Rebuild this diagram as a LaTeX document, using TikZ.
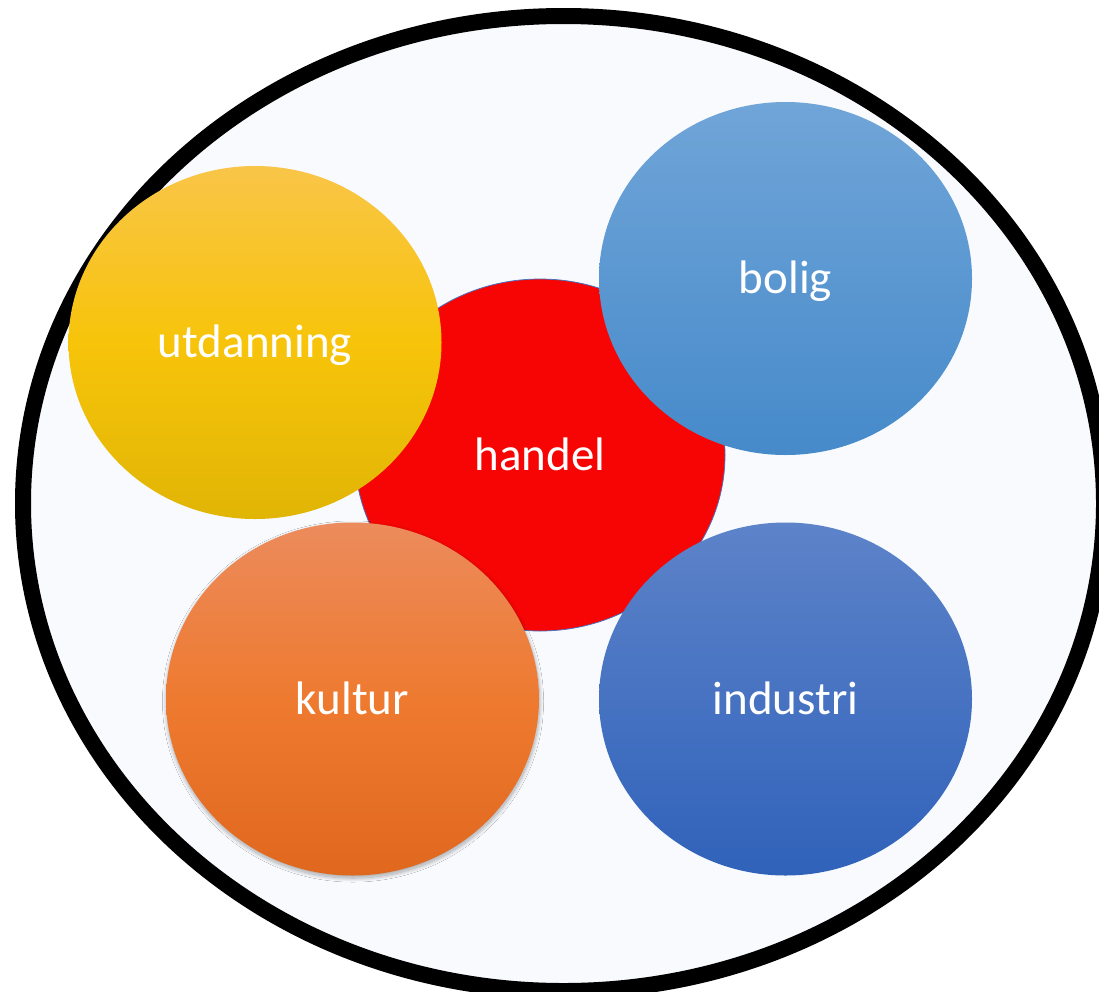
\documentclass[tikz,border=0pt]{standalone}
\usepackage{xcolor}
\usepackage{tikz}
\usepackage{fontspec}
\setmainfont{Carlito}
\usetikzlibrary{shapes.geometric,shadows.blur}
\definecolor{bgfill}{RGB}{248,250,253}
\definecolor{handelred}{RGB}{247,5,5}
\definecolor{handelline}{RGB}{68,114,196}
\definecolor{utdtop}{RGB}{249,197,72}
\definecolor{utdmid}{RGB}{247,196,10}
\definecolor{utdbot}{RGB}{225,181,5}
\definecolor{boligtop}{RGB}{112,165,216}
\definecolor{boligbot}{RGB}{70,138,202}
\definecolor{indtop}{RGB}{93,131,201}
\definecolor{indbot}{RGB}{48,98,186}
\definecolor{kulttop}{RGB}{236,139,92}
\definecolor{kultmid}{RGB}{238,122,48}
\definecolor{kultbot}{RGB}{224,104,30}

\begin{document}
\begin{tikzpicture}[x=1pt,y=1pt]
\tikzstyle{every node}+=[inner sep=0pt]
\tikzstyle{bubble}=[ellipse, minimum width=373pt, minimum height=353pt, text=white, font=\fontsize{47}{56}\selectfont, text height=30pt, text depth=0pt]
\useasboundingbox (0,0) rectangle (1099,-991);
\draw [black, line width=16pt, fill=bgfill] (563.5,-503.5) ellipse [x radius=540.5, y radius=487.5];
\node (handel) [bubble, fill=handelred, draw=handelline, line width=0.75pt, minimum width=370pt, minimum height=352pt] at (540,-455) {handel};
\node (utdanning) [bubble, top color=utdtop, bottom color=utdbot, middle color=utdmid] at (255,-342.5) {utdanning};
\node (bolig) [bubble, top color=boligtop, bottom color=boligbot] at (785.5,-278.5) {bolig};
\node (kultur) [bubble, top color=kulttop, bottom color=kultbot, middle color=kultmid, blur shadow={shadow xshift=0.5pt, shadow yshift=-2.5pt, shadow blur radius=4pt, shadow blur steps=20, shadow opacity=35}] at (352.5,-699) {kultur};
\node (industri) [bubble, top color=indtop, bottom color=indbot] at (785.5,-699) {industri};
\end{tikzpicture}
\end{document}
